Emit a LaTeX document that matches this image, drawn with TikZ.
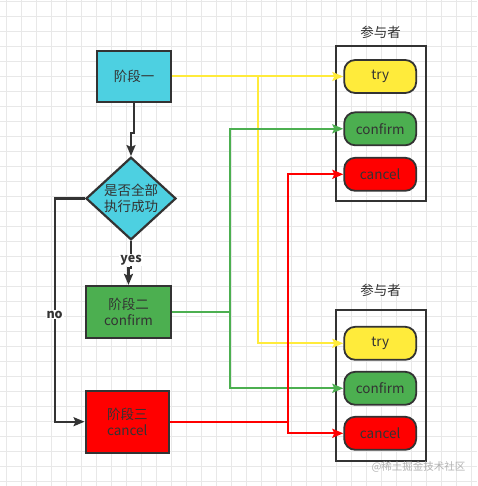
\documentclass[tikz,border=0pt]{standalone}
\usepackage{fontspec}
\setmainfont{Noto Sans CJK SC}
\usetikzlibrary{shapes,arrows.meta}
\definecolor{edgegray}{HTML}{333333}
\definecolor{gridgray}{HTML}{E8E8E8}
\definecolor{cyanfill}{HTML}{4DD0E1}
\definecolor{greenfill}{HTML}{4CAF50}
\definecolor{redfill}{HTML}{FF0000}
\definecolor{yellowfill}{HTML}{FFEB3B}
\tikzstyle{block} = [draw=edgegray, line width=2.2pt, rectangle, align=center, inner sep=0pt, text=edgegray]
\tikzstyle{decision} = [draw=edgegray, line width=2.2pt, diamond, align=center, inner sep=0pt, fill=cyanfill, minimum width=90pt, minimum height=69pt, text=edgegray]
\tikzstyle{group} = [draw=edgegray, line width=2.2pt, rectangle, minimum width=90pt]
\tikzstyle{action} = [draw=edgegray, line width=1.8pt, rounded corners=11pt, minimum width=72pt, minimum height=33pt, text=edgegray]
\tikzstyle{flow} = [draw=edgegray, line width=2.2pt, -{Stealth[length=11pt,width=9pt,inset=2pt]}]
\tikzstyle{link} = [line width=2pt, -{Stealth[length=11pt,width=9pt,inset=2pt]}]
\tikzstyle{tag} = [fill=white, inner sep=1pt, font=\bfseries\fontsize{12.5}{14}\selectfont, text=edgegray]

\begin{document}
\begin{tikzpicture}[x=1pt, y=-1pt, font=\fontsize{13.5}{16}\selectfont]
	\useasboundingbox (0,0) rectangle (477,486);
	\fill[white] (0,0) rectangle (477,486);

	% GRID
	\foreach \i in {0,...,31} {
		\draw[gridgray, line width=0.8pt] (6.7+15*\i,0) -- (6.7+15*\i,486);
	}
	\foreach \j in {0,...,32} {
		\draw[gridgray, line width=0.8pt] (0,1.7+15*\j) -- (477,1.7+15*\j);
	}

	% PHASES
	\node[block, fill=cyanfill, minimum width=74pt, minimum height=51pt] (phaseone) at (134,76.5) {阶段一};
	\node[decision] (check) at (131,198.5) {是否全部\\执行成功};
	\node[block, fill=greenfill, minimum width=85.6pt, minimum height=52pt] (phasetwo) at (128.5,312) {阶段二\\confirm};
	\node[block, fill=redfill, minimum width=83.3pt, minimum height=62pt] (phasethree) at (127.3,421.7) {阶段三\\cancel};

	% PARTICIPANTS
	\node[group, minimum height=155.3pt] (parta) at (380.9,123.3) {};
	\node[text=edgegray] at (380.7,32.7) {参与者};
	\node[action, fill=yellowfill] (trya) at (380.2,76.5) {try};
	\node[action, fill=greenfill] (confirma) at (380.2,128.8) {confirm};
	\node[action, fill=redfill] (cancela) at (380.2,174.3) {cancel};

	\node[group, minimum height=150.7pt] (partb) at (380.9,385.3) {};
	\node[text=edgegray] at (380.7,290.7) {参与者};
	\node[action, fill=yellowfill] (tryb) at (380.2,343.3) {try};
	\node[action, fill=greenfill] (confirmb) at (380.2,388.3) {confirm};
	\node[action, fill=redfill] (cancelb) at (380.2,433.3) {cancel};

	% FLOW
	\draw[flow] (phaseone.south) -- ++(0,30) -| (check.north);
	\draw[flow] (check.south) -- node[tag, pos=0.7] {yes} ++(0,27) -| (phasetwo.north);
	\draw[flow] (check.west) -- ++(-30.3,0) |- node[tag, pos=0.26] {no} (phasethree.west);

	% CALLS
	\coordinate (ysplit) at (258.3,76.5);
	\coordinate (gsplit) at (230,312);
	\coordinate (rsplit) at (288.3,421.7);

	\draw[link, yellowfill] (phaseone.east) -- (trya.west);
	\draw[link, yellowfill] (ysplit) |- (tryb.west);

	\draw[link, greenfill] (phasetwo.east) -- (gsplit) |- (confirma.west);
	\draw[link, greenfill] (gsplit) |- (confirmb.west);

	\draw[link, redfill] (phasethree.east) -- (rsplit) |- (cancela.west);
	\draw[link, redfill] (rsplit) |- (cancelb.west);

	% WATERMARK
	\node[text=black!30, font=\fontsize{10.5}{12}\selectfont] (mark) at (418.5,466.7) {@稀土掘金技术社区};
\end{tikzpicture}
\end{document}
